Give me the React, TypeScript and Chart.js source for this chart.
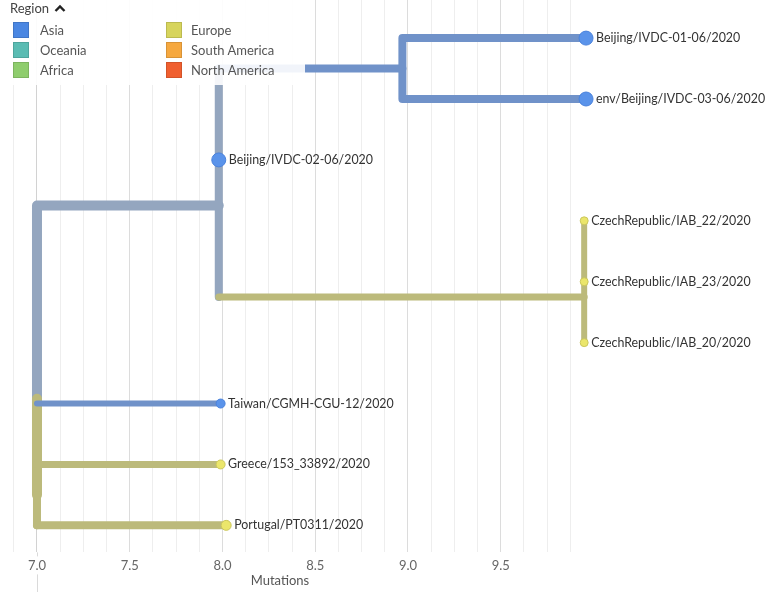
import React, { useEffect, useRef } from 'react';
import { Chart, registerables } from 'chart.js';

Chart.register(...registerables);

// ---- data ----
const tipNames = [
  'Beijing/IVDC-01-06/2020',
  'env/Beijing/IVDC-03-06/2020',
  'Beijing/IVDC-02-06/2020',
  'CzechRepublic/IAB_22/2020',
  'CzechRepublic/IAB_23/2020',
  'CzechRepublic/IAB_20/2020',
  'Taiwan/CGMH-CGU-12/2020',
  'Greece/153_33892/2020',
  'Portugal/PT0311/2020',
];
const tipMutations = [9.96, 9.96, 7.98, 9.95, 9.95, 9.95, 7.99, 7.99, 8.02];
const tipRows = [0, 1, 2, 3, 4, 5, 6, 7, 8];
const tipRegions = ['Asia', 'Asia', 'Asia', 'Europe', 'Europe', 'Europe', 'Asia', 'Europe', 'Europe'];

const regionNames = ['Asia', 'Oceania', 'Africa', 'Europe', 'South America', 'North America'];
const regionColors = ['#4b87e2', '#5bbcb3', '#8fcd6d', '#d7d45c', '#f6a83f', '#f05f2f'];

const tickValues = [7.0, 7.5, 8.0, 8.5, 9.0, 9.5];
const gridMax = 9.875;
const rootMutations = 7.0;
const axisTitle = 'Mutations';
const axisTitleAt = 8.31;

// branch polylines as [mutations, row] pairs
const branchPaths: [number, number][][] = [
  [[7.0, 6], [7.0, 2.75], [7.98, 2.75]],
  [[7.0, 5.92], [7.0, 7.5]],
  [[7.0, 7.5], [7.0, 8]],
  [[7.98, 0.5], [7.98, 4.25]],
  [[9.95, 3], [9.95, 5]],
  [[7.98, 4.25], [9.95, 4.25]],
  [[7.0, 6], [7.99, 6]],
  [[7.0, 7], [7.99, 7]],
  [[7.0, 8], [8.02, 8]],
  [[7.98, 0.5], [8.97, 0.5]],
  [[9.96, 0], [8.97, 0], [8.97, 1], [9.96, 1]],
];
const branchRegions = ['Mixed', 'Europe', 'Europe', 'Mixed', 'Europe', 'Europe', 'Asia', 'Europe', 'Europe', 'Asia', 'Asia'];

// ---- styles ----
const branchColorFor: Record<string, string> = {
  Mixed: '#94a6bf',
  Asia: '#7092c9',
  Europe: '#bcba7b',
};
const branchWidths = [10, 10, 8, 8, 6, 7, 6, 7, 8, 8, 8];
const tipFill: Record<string, string> = { Asia: '#5a93ea', Europe: '#ebe66b' };
const tipBorder: Record<string, string> = { Asia: '#4a82dc', Europe: '#cbc75d' };
const tipSizes = [7, 7, 7, 4, 4, 4, 4.5, 4.5, 5];

const FONT = 'Lato, "Noto Sans", sans-serif';

const tipLabelPlugin = {
  id: 'tipLabels',
  beforeDatasetsDraw(chart: any) {
    const { ctx, scales, chartArea } = chart;
    const x = Math.round(scales.x.getPixelForValue(rootMutations)) + 0.5;
    ctx.save();
    ctx.strokeStyle = '#dadada';
    ctx.lineWidth = 1;
    ctx.beginPath();
    ctx.moveTo(x, chartArea.bottom);
    ctx.lineTo(x, chartArea.bottom + 4);
    ctx.moveTo(x, chartArea.bottom + 22);
    ctx.lineTo(x, chart.height);
    ctx.stroke();
    ctx.restore();
  },
  afterDatasetsDraw(chart: any) {
    const { ctx, scales } = chart;
    ctx.save();
    ctx.font = `12.4px ${FONT}`;
    ctx.fillStyle = '#333333';
    ctx.textBaseline = 'middle';
    ctx.textAlign = 'left';
    tipNames.forEach((name, i) => {
      const x = scales.x.getPixelForValue(tipMutations[i]);
      const y = scales.y.getPixelForValue(tipRows[i]);
      ctx.fillText(name, x + tipSizes[i] + 3, y);
    });
    // axis title
    ctx.font = `13px ${FONT}`;
    ctx.fillStyle = '#555';
    ctx.textAlign = 'center';
    ctx.fillText(axisTitle, scales.x.getPixelForValue(axisTitleAt), chart.height - 11);
    ctx.restore();
  },
};

function Legend() {
  return (
    <div
      style={{
        position: 'absolute',
        left: 0,
        top: 0,
        width: 305,
        height: 85,
        background: 'rgba(255,255,255,0.9)',
        fontFamily: FONT,
        fontSize: 13,
        color: '#555',
      }}
    >
      <div style={{ position: 'absolute', left: 10, top: 0, lineHeight: '16px', color: '#444' }}>
        Region
        <svg width="12" height="10" style={{ marginLeft: 5 }}>
          <polyline points="1.5,8 6,3.5 10.5,8" fill="none" stroke="#222" strokeWidth="2.4" />
        </svg>
      </div>
      {regionNames.map((r, i) => {
        const col = Math.floor(i / 3);
        const row = i % 3;
        return (
          <div key={r}>
            <div
              style={{
                position: 'absolute',
                left: col === 0 ? 13 : 166,
                top: 22 + row * 20,
                width: 16,
                height: 16,
                background: regionColors[i],
                boxShadow: 'inset 0 0 0 1px rgba(0,0,0,0.12)',
              }}
            />
            <div
              style={{
                position: 'absolute',
                left: col === 0 ? 40 : 191,
                top: 22 + row * 20,
                lineHeight: '16px',
              }}
            >
              {r}
            </div>
          </div>
        );
      })}
    </div>
  );
}

export default function App() {
  const canvasRef = useRef<HTMLCanvasElement | null>(null);

  useEffect(() => {
    if (!canvasRef.current) return;
    const branchDatasets = branchPaths.map((path, i) => ({
      type: 'scatter' as const,
      data: path.map(([x, y]) => ({ x, y })),
      showLine: true,
      borderColor: branchColorFor[branchRegions[i]],
      backgroundColor: branchColorFor[branchRegions[i]],
      borderWidth: branchWidths[i],
      borderCapStyle: 'round',
      borderJoinStyle: 'round',
      pointRadius: 0,
      pointHoverRadius: 0,
      tension: 0,
      clip: false,
      order: 100 - i,
    }));
    const tipDataset = {
      type: 'scatter' as const,
      data: tipMutations.map((x, i) => ({ x, y: tipRows[i] })),
      showLine: false,
      pointRadius: tipSizes,
      pointHoverRadius: tipSizes,
      backgroundColor: tipRegions.map((r) => tipFill[r]),
      borderColor: tipRegions.map((r) => tipBorder[r]),
      borderWidth: 1,
      clip: false,
      order: 0,
    };

    const chart = new Chart(canvasRef.current, {
      type: 'scatter',
      data: { datasets: [tipDataset as any, ...(branchDatasets as any[])] },
      options: {
        animation: false,
        responsive: true,
        maintainAspectRatio: false,
        events: [],
        layout: { autoPadding: false, padding: { left: 13.8, right: 81.8, top: 0, bottom: 12 } },
        plugins: { legend: { display: false }, tooltip: { enabled: false } },
        scales: {
          x: {
            type: 'linear',
            min: 6.875,
            max: 10.5,
            ticks: {
              stepSize: 0.125,
              autoSkip: false,
              maxRotation: 0,
              padding: 6,
              color: '#666',
              font: { family: FONT, size: 13 },
              callback: (v: any) =>
                tickValues.some((t) => Math.abs(t - Number(v)) < 1e-6) ? Number(v).toFixed(1) : '',
            },
            grid: {
              drawTicks: false,
              lineWidth: 1,
              color: (c: any) => {
                const v = c.tick ? c.tick.value : 0;
                if (v > gridMax + 1e-6) return 'rgba(0,0,0,0)';
                if (Math.abs(v - 7) < 1e-6) return '#d2d2d2';
                return tickValues.some((t) => Math.abs(t - v) < 1e-6) ? '#dcdcdc' : '#eeeeee';
              },
            },
            border: { display: false },
          },
          y: {
            type: 'linear',
            display: false,
            reverse: true,
            min: -0.6255,
            max: 8.444,
          },
        },
      },
      plugins: [tipLabelPlugin],
    });
    return () => chart.destroy();
  }, []);

  return (
    <div style={{ position: 'fixed', left: 0, top: 0, width: 768, height: 592, background: '#fff' }}>
      <canvas ref={canvasRef} />
      <Legend />
    </div>
  );
}
